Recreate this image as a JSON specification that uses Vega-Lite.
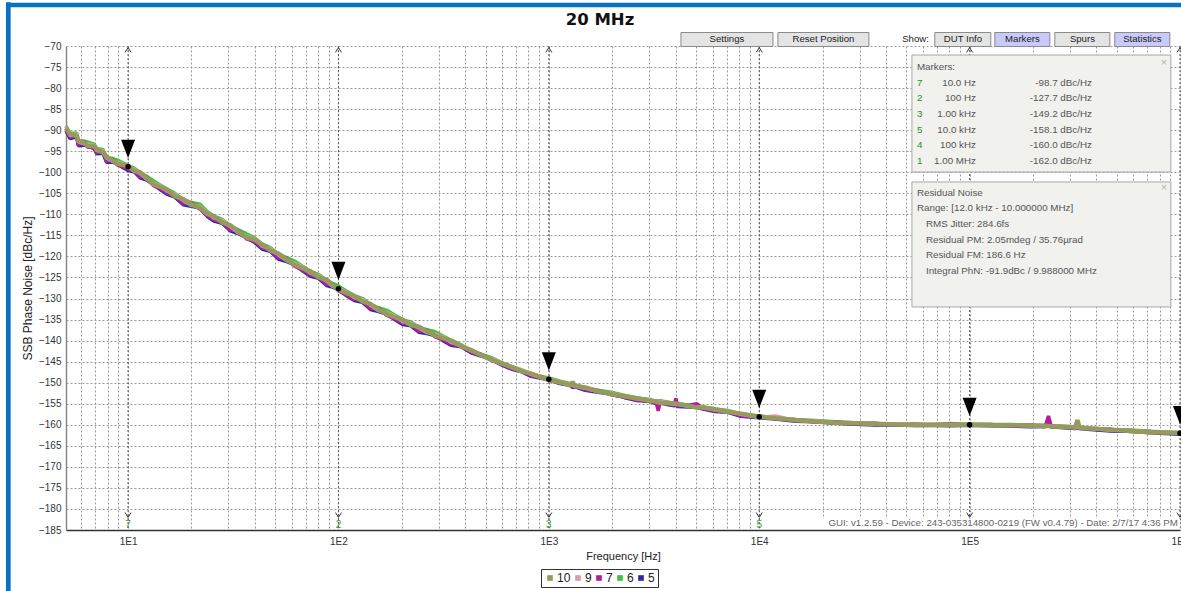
{
  "$schema": "https://vega.github.io/schema/vega-lite/v6.json",
  "autosize": {"type": "none"},
  "padding": {"left": 66, "top": 46, "right": 1, "bottom": 61},
  "width": 1114,
  "height": 484,
  "background": "white",
  "config": {
    "view": {"stroke": null},
    "font": "Liberation Sans",
    "axis": {"grid": true, "gridDash": [2, 2], "gridColor": "#9a9a9a", "gridWidth": 1, "ticks": false, "labelFont": "Liberation Sans", "labelFontSize": 10, "labelColor": "#333", "titleFont": "Liberation Sans", "titleFontSize": 11, "titleFontWeight": "normal", "titleColor": "#222", "labelOverlap": false},
    "axisY": {"labelOverlap": false, "labelFlush": false, "labelBound": false, "tickCount": 40},
    "axisX": {"labelOverlap": false, "labelFlush": false, "labelBound": false, "tickCount": 80}
  },
  "data": {"values": [
    {"f":5.07,"s10":-89.5,"s9":-89.2,"s7":-89.9,"s6":-89.0,"s5":-90.1},
    {"f":5.3,"s10":-90.9,"s9":-91.3,"s7":-91.7,"s6":-90.8,"s5":-92.0},
    {"f":5.7,"s10":-91.4,"s9":-90.9,"s7":-91.3,"s6":-90.7,"s5":-91.6},
    {"f":5.8,"s10":-92.4,"s9":-92.7,"s7":-93.5,"s6":-92.5,"s5":-93.7},
    {"f":6.2,"s10":-93.0,"s9":-93.3,"s7":-92.7,"s6":-92.6,"s5":-93.5},
    {"f":6.4,"s10":-93.7,"s9":-93.3,"s7":-94.0,"s6":-92.8,"s5":-93.7},
    {"f":6.9,"s10":-93.8,"s9":-93.5,"s7":-94.2,"s6":-93.3,"s5":-94.4},
    {"f":7.1,"s10":-94.5,"s9":-94.9,"s7":-95.3,"s6":-94.4,"s5":-95.6},
    {"f":7.6,"s10":-95.3,"s9":-94.8,"s7":-95.2,"s6":-94.6,"s5":-95.5},
    {"f":7.9,"s10":-96.3,"s9":-96.6,"s7":-97.4,"s6":-96.4,"s5":-97.6},
    {"f":8.4,"s10":-97.1,"s9":-97.4,"s7":-96.8,"s6":-96.7,"s5":-97.6},
    {"f":8.9,"s10":-98.0,"s9":-97.6,"s7":-98.3,"s6":-97.1,"s5":-98.0},
    {"f":9.4,"s10":-98.2,"s9":-97.9,"s7":-98.6,"s6":-97.7,"s5":-98.8},
    {"f":10,"s10":-98.5,"s9":-98.9,"s7":-99.3,"s6":-98.4,"s5":-99.6},
    {"f":10.7,"s10":-99.7,"s9":-99.2,"s7":-99.6,"s6":-99.0,"s5":-99.9},
    {"f":11.4,"s10":-100.0,"s9":-100.3,"s7":-101.1,"s6":-100.1,"s5":-101.3},
    {"f":12.2,"s10":-101.3,"s9":-101.6,"s7":-101.0,"s6":-100.9,"s5":-101.8},
    {"f":13.2,"s10":-102.9,"s9":-102.5,"s7":-103.2,"s6":-102.0,"s5":-102.9},
    {"f":14.2,"s10":-103.5,"s9":-103.2,"s7":-103.9,"s6":-103.0,"s5":-104.1},
    {"f":15.3,"s10":-104.1,"s9":-104.5,"s7":-104.9,"s6":-104.0,"s5":-105.2},
    {"f":16.7,"s10":-105.7,"s9":-105.2,"s7":-105.6,"s6":-105.0,"s5":-105.9},
    {"f":18.3,"s10":-106.4,"s9":-106.7,"s7":-107.5,"s6":-106.5,"s5":-107.7},
    {"f":20,"s10":-107.6,"s9":-107.9,"s7":-107.3,"s6":-107.2,"s5":-108.1},
    {"f":22,"s10":-108.5,"s9":-108.1,"s7":-108.8,"s6":-107.6,"s5":-108.5},
    {"f":23.8,"s10":-109.9,"s9":-109.6,"s7":-110.3,"s6":-109.4,"s5":-110.5},
    {"f":25.6,"s10":-110.5,"s9":-110.9,"s7":-111.3,"s6":-110.4,"s5":-111.6},
    {"f":28,"s10":-111.9,"s9":-111.4,"s7":-111.8,"s6":-111.2,"s5":-112.1},
    {"f":30.6,"s10":-112.6,"s9":-112.9,"s7":-113.7,"s6":-112.7,"s5":-113.9},
    {"f":33.4,"s10":-114.1,"s9":-114.4,"s7":-113.8,"s6":-113.7,"s5":-114.6},
    {"f":36.5,"s10":-115.5,"s9":-115.1,"s7":-115.8,"s6":-114.6,"s5":-115.5},
    {"f":39.8,"s10":-116.0,"s9":-115.7,"s7":-116.4,"s6":-115.5,"s5":-116.6},
    {"f":43.5,"s10":-117.2,"s9":-117.6,"s7":-118.0,"s6":-117.1,"s5":-118.3},
    {"f":47.5,"s10":-118.6,"s9":-118.1,"s7":-118.5,"s6":-117.9,"s5":-118.8},
    {"f":51.8,"s10":-119.3,"s9":-119.6,"s7":-120.4,"s6":-119.4,"s5":-120.6},
    {"f":56.6,"s10":-120.7,"s9":-121.0,"s7":-120.4,"s6":-120.3,"s5":-121.2},
    {"f":61.8,"s10":-122.0,"s9":-121.6,"s7":-122.3,"s6":-121.1,"s5":-122.0},
    {"f":67.5,"s10":-122.8,"s9":-122.5,"s7":-123.2,"s6":-122.3,"s5":-123.4},
    {"f":73.7,"s10":-123.6,"s9":-124.0,"s7":-124.4,"s6":-123.5,"s5":-124.7},
    {"f":80.5,"s10":-125.0,"s9":-124.5,"s7":-124.9,"s6":-124.3,"s5":-125.2},
    {"f":87.9,"s10":-125.6,"s9":-125.9,"s7":-126.7,"s6":-125.7,"s5":-126.9},
    {"f":93.8,"s10":-126.8,"s9":-127.1,"s7":-126.5,"s6":-126.4,"s5":-127.3},
    {"f":100,"s10":-127.9,"s9":-127.5,"s7":-128.2,"s6":-127.0,"s5":-127.9},
    {"f":109,"s10":-128.7,"s9":-128.4,"s7":-129.1,"s6":-128.2,"s5":-129.3},
    {"f":119,"s10":-129.4,"s9":-129.8,"s7":-130.2,"s6":-129.3,"s5":-130.5},
    {"f":130,"s10":-130.7,"s9":-130.2,"s7":-130.6,"s6":-130.0,"s5":-130.9},
    {"f":142,"s10":-131.3,"s9":-131.6,"s7":-132.4,"s6":-131.4,"s5":-132.6},
    {"f":155,"s10":-132.6,"s9":-132.9,"s7":-132.3,"s6":-132.2,"s5":-133.1},
    {"f":170,"s10":-133.7,"s9":-133.3,"s7":-134.0,"s6":-132.8,"s5":-133.7},
    {"f":185,"s10":-134.4,"s9":-134.1,"s7":-134.8,"s6":-133.9,"s5":-135.0},
    {"f":202,"s10":-135.1,"s9":-135.5,"s7":-135.9,"s6":-135.0,"s5":-136.2},
    {"f":221,"s10":-136.3,"s9":-135.8,"s7":-136.2,"s6":-135.6,"s5":-136.5},
    {"f":241,"s10":-136.7,"s9":-137.0,"s7":-137.8,"s6":-136.8,"s5":-138.0},
    {"f":263,"s10":-137.8,"s9":-138.1,"s7":-137.5,"s6":-137.4,"s5":-138.3},
    {"f":288,"s10":-138.8,"s9":-138.4,"s7":-139.1,"s6":-137.9,"s5":-138.8},
    {"f":314,"s10":-139.4,"s9":-139.1,"s7":-139.8,"s6":-138.9,"s5":-140.0},
    {"f":343,"s10":-140.0,"s9":-140.4,"s7":-140.8,"s6":-139.9,"s5":-141.1},
    {"f":383,"s10":-141.35,"s9":-141.1,"s7":-141.3,"s6":-141.0,"s5":-141.45},
    {"f":427,"s10":-142.25,"s9":-142.4,"s7":-142.8,"s6":-142.3,"s5":-142.9},
    {"f":476,"s10":-143.4,"s9":-143.55,"s7":-143.25,"s6":-143.2,"s5":-143.65},
    {"f":532,"s10":-144.5,"s9":-144.3,"s7":-144.65,"s6":-144.05,"s5":-144.5},
    {"f":593,"s10":-145.4,"s9":-145.25,"s7":-145.6,"s6":-145.15,"s5":-145.7},
    {"f":662,"s10":-146.2,"s9":-146.4,"s7":-146.6,"s6":-146.15,"s5":-146.75},
    {"f":738,"s10":-147.25,"s9":-147.0,"s7":-147.2,"s6":-146.9,"s5":-147.35},
    {"f":824,"s10":-147.85,"s9":-148.0,"s7":-148.4,"s6":-147.9,"s5":-148.5},
    {"f":919,"s10":-148.7,"s9":-148.85,"s7":-148.55,"s6":-148.5,"s5":-148.95},
    {"f":1000,"s10":-149.3,"s9":-149.1,"s7":-149.45,"s6":-148.85,"s5":-149.3},
    {"f":1131,"s10":-149.9,"s9":-149.75,"s7":-150.1,"s6":-149.65,"s5":-150.2},
    {"f":1270,"s10":-150.6,"s9":-150.35,"s7":-150.55,"s6":-150.25,"s5":-150.7},
    {"f":1297,"s10":-149.8,"s9":-150.65,"s7":-151.05,"s6":-150.55,"s5":-151.15},
    {"f":1325,"s10":-150.7,"s9":-150.85,"s7":-150.55,"s6":-150.5,"s5":-150.95},
    {"f":1487,"s10":-151.15,"s9":-151.3,"s7":-151.7,"s6":-151.2,"s5":-151.8},
    {"f":1713,"s10":-152.0,"s9":-152.15,"s7":-151.85,"s6":-151.8,"s5":-152.25},
    {"f":1975,"s10":-152.7,"s9":-152.5,"s7":-152.85,"s6":-152.25,"s5":-152.7},
    {"f":2277,"s10":-153.2,"s9":-153.05,"s7":-153.4,"s6":-152.95,"s5":-153.5},
    {"f":2624,"s10":-153.7,"s9":-153.9,"s7":-154.1,"s6":-153.65,"s5":-154.25},
    {"f":3025,"s10":-154.35,"s9":-154.1,"s7":-154.3,"s6":-154.0,"s5":-154.45},
    {"f":3250,"s10":-154.4,"s9":-154.55,"s7":-154.95,"s6":-154.45,"s5":-155.05},
    {"f":3310,"s10":-154.6,"s9":-154.75,"s7":-156.7,"s6":-154.4,"s5":-154.85},
    {"f":3370,"s10":-154.75,"s9":-154.55,"s7":-154.9,"s6":-154.3,"s5":-154.75},
    {"f":3600,"s10":-154.8,"s9":-154.65,"s7":-155.0,"s6":-154.55,"s5":-155.1},
    {"f":3950,"s10":-154.95,"s9":-155.15,"s7":-155.35,"s6":-154.9,"s5":-155.5},
    {"f":4018,"s10":-155.15,"s9":-154.9,"s7":-153.7,"s6":-154.8,"s5":-155.25},
    {"f":4090,"s10":-155.0,"s9":-155.15,"s7":-155.55,"s6":-155.05,"s5":-155.65},
    {"f":4632,"s10":-155.5,"s9":-155.65,"s7":-155.35,"s6":-155.3,"s5":-155.75},
    {"f":5067,"s10":-155.9,"s9":-155.7,"s7":-155.0,"s6":-155.45,"s5":-155.9},
    {"f":5339,"s10":-155.9,"s9":-155.75,"s7":-156.1,"s6":-155.65,"s5":-156.2},
    {"f":6154,"s10":-156.3,"s9":-156.5,"s7":-156.7,"s6":-156.25,"s5":-156.85},
    {"f":7093,"s10":-156.95,"s9":-156.7,"s7":-156.9,"s6":-156.6,"s5":-157.05},
    {"f":8176,"s10":-157.35,"s9":-157.5,"s7":-157.9,"s6":-157.4,"s5":-158.0},
    {"f":10000,"s10":-158.1,"s9":-158.25,"s7":-157.95,"s6":-157.9,"s5":-158.35},
    {"f":11930,"s10":-158.45,"s9":-157.9,"s7":-158.55,"s6":-158.3,"s5":-158.65},
    {"f":14850,"s10":-158.85,"s9":-159.0,"s7":-158.75,"s6":-158.8,"s5":-159.15},
    {"f":18480,"s10":-159.2,"s9":-159.05,"s7":-159.35,"s6":-159.0,"s5":-159.3},
    {"f":23010,"s10":-159.5,"s9":-159.45,"s7":-159.35,"s6":-159.3,"s5":-159.65},
    {"f":28640,"s10":-159.65,"s9":-159.55,"s7":-159.75,"s6":-159.5,"s5":-159.85},
    {"f":35650,"s10":-159.75,"s9":-159.9,"s7":-159.65,"s6":-159.7,"s5":-160.05},
    {"f":44380,"s10":-159.95,"s9":-159.8,"s7":-160.1,"s6":-159.75,"s5":-160.05},
    {"f":55250,"s10":-160.05,"s9":-160.0,"s7":-159.9,"s6":-159.85,"s5":-160.2},
    {"f":68780,"s10":-160.0,"s9":-159.9,"s7":-160.1,"s6":-159.85,"s5":-160.2},
    {"f":81050,"s10":-159.95,"s9":-160.1,"s7":-159.7,"s6":-159.9,"s5":-160.25},
    {"f":100000,"s10":-160.0,"s9":-159.85,"s7":-160.15,"s6":-159.8,"s5":-160.1},
    {"f":125600,"s10":-160.1,"s9":-160.05,"s7":-159.95,"s6":-159.9,"s5":-160.25},
    {"f":156300,"s10":-160.1,"s9":-160.0,"s7":-160.2,"s6":-159.95,"s5":-160.3},
    {"f":194600,"s10":-160.15,"s9":-160.3,"s7":-160.05,"s6":-160.1,"s5":-160.45},
    {"f":229000,"s10":-160.3,"s9":-160.15,"s7":-160.45,"s6":-160.1,"s5":-160.4},
    {"f":236900,"s10":-160.3,"s9":-160.2,"s7":-157.9,"s6":-160.15,"s5":-158.6},
    {"f":244000,"s10":-160.4,"s9":-160.35,"s7":-160.25,"s6":-160.2,"s5":-160.55},
    {"f":270300,"s10":-160.45,"s9":-160.35,"s7":-160.55,"s6":-160.3,"s5":-160.65},
    {"f":318000,"s10":-160.6,"s9":-160.75,"s7":-160.5,"s6":-160.55,"s5":-160.9},
    {"f":325500,"s10":-158.9,"s9":-160.55,"s7":-160.85,"s6":-160.5,"s5":-160.8},
    {"f":333000,"s10":-160.75,"s9":-160.7,"s7":-160.6,"s6":-160.55,"s5":-160.9},
    {"f":375300,"s10":-160.9,"s9":-160.8,"s7":-161.0,"s6":-160.75,"s5":-161.1},
    {"f":467100,"s10":-161.15,"s9":-161.3,"s7":-161.05,"s6":-161.1,"s5":-161.45},
    {"f":581500,"s10":-161.45,"s9":-161.3,"s7":-161.6,"s6":-161.25,"s5":-161.55},
    {"f":723800,"s10":-161.75,"s9":-161.7,"s7":-161.6,"s6":-161.55,"s5":-161.9},
    {"f":853100,"s10":-161.85,"s9":-161.75,"s7":-161.95,"s6":-161.7,"s5":-162.05},
    {"f":1000000,"s10":-161.95,"s9":-162.1,"s7":-161.85,"s6":-161.9,"s5":-162.25}
  ]},
  "datasets": {
    "markers": [
      {"f": 10, "v": -98.7, "n": "7"},
      {"f": 100, "v": -127.7, "n": "2"},
      {"f": 1000, "v": -149.2, "n": "3"},
      {"f": 10000, "v": -158.1, "n": "5"},
      {"f": 100000, "v": -160.0, "n": "4"},
      {"f": 1000000, "v": -162.0, "n": "1"}
    ],
    "one": [{}]
  },
  "layer": [
    {
      "data": {"name": "markers"},
      "mark": {"type": "rule", "color": "#555", "strokeDash": [2, 2], "strokeWidth": 1},
      "encoding": {
        "x": {"field": "f", "type": "quantitative"},
        "y": {"datum": -70, "type": "quantitative"},
        "y2": {"datum": -185}
      }
    },
    {
      "mark": {"type": "line", "strokeWidth": 3.5, "strokeJoin": "bevel"},
      "encoding": {
        "x": {"field": "f", "type": "quantitative", "scale": {"type": "log", "domain": [5.07, 1000000], "nice": false},
          "axis": {"title": "Frequency [Hz]", "tickCount": 80, "values": [6,7,8,9,10,20,30,40,50,60,70,80,90,100,200,300,400,500,600,700,800,900,1000,2000,3000,4000,5000,6000,7000,8000,9000,10000,20000,30000,40000,50000,60000,70000,80000,90000,100000,200000,300000,400000,500000,600000,700000,800000,900000,1000000],
            "labelExpr": "datum.value == 10 ? '1E1' : datum.value == 100 ? '1E2' : datum.value == 1000 ? '1E3' : datum.value == 10000 ? '1E4' : datum.value == 100000 ? '1E5' : datum.value == 1000000 ? '1E6' : ''",
            "labelOverlap": false, "labelFlush": false, "labelBound": false, "labelPadding": 6, "titlePadding": 4, "domainColor": "#333", "domainWidth": 1.5}},
        "y": {"field": "s5", "type": "quantitative", "scale": {"domain": [-185, -70], "nice": false, "zero": false},
          "axis": {"title": "SSB Phase Noise [dBc/Hz]", "titleFontSize": 12, "tickCount": 40, "values": [-70,-75,-80,-85,-90,-95,-100,-105,-110,-115,-120,-125,-130,-135,-140,-145,-150,-155,-160,-165,-170,-175,-180,-185], "labelOverlap": false, "labelFlush": false, "labelBound": false, "labelPadding": 5, "titlePadding": 4, "domainColor": "#8a8a8a", "domainWidth": 1.5}},
        "color": {"datum": "5", "type": "nominal",
          "scale": {"domain": ["10", "9", "7", "6", "5"], "range": ["#979a5c", "#d4a0a6", "#b41ca2", "#3cc43c", "#2a2aa4"]},
          "legend": {"orient": "none", "legendX": 475, "legendY": 523, "direction": "horizontal", "title": null, "symbolType": "square", "symbolSize": 32, "symbolStrokeWidth": 0, "labelFontSize": 12, "labelColor": "#222", "labelOffset": 1, "columnPadding": 1, "padding": 3, "strokeColor": "#333",
            "encode": {"symbols": {"update": {"fill": {"scale": "color", "field": "value"}, "shape": {"value": "square"}, "strokeWidth": {"value": 0}}}}}}
      }
    },
    {
      "mark": {"type": "line", "strokeWidth": 3.5, "strokeJoin": "bevel"},
      "encoding": {
        "x": {"field": "f", "type": "quantitative"},
        "y": {"field": "s6", "type": "quantitative"},
        "color": {"datum": "6", "type": "nominal"}
      }
    },
    {
      "mark": {"type": "line", "strokeWidth": 3.5, "strokeJoin": "bevel"},
      "encoding": {
        "x": {"field": "f", "type": "quantitative"},
        "y": {"field": "s7", "type": "quantitative"},
        "color": {"datum": "7", "type": "nominal"}
      }
    },
    {
      "mark": {"type": "line", "strokeWidth": 3.5, "strokeJoin": "bevel"},
      "encoding": {
        "x": {"field": "f", "type": "quantitative"},
        "y": {"field": "s9", "type": "quantitative"},
        "color": {"datum": "9", "type": "nominal"}
      }
    },
    {
      "mark": {"type": "line", "strokeWidth": 4.5, "strokeJoin": "bevel"},
      "encoding": {
        "x": {"field": "f", "type": "quantitative"},
        "y": {"field": "s10", "type": "quantitative"},
        "color": {"datum": "10", "type": "nominal"}
      }
    },
    {
      "data": {"name": "markers"},
      "mark": {"type": "point", "shape": "M-1,-1.3L1,-1.3L0,1.3Z", "filled": true, "color": "#000", "opacity": 1, "size": 196, "yOffset": -18},
      "encoding": {
        "x": {"field": "f", "type": "quantitative"},
        "y": {"field": "v", "type": "quantitative"}
      }
    },
    {
      "data": {"name": "markers"},
      "mark": {"type": "point", "shape": "circle", "filled": true, "color": "#000", "opacity": 1, "size": 30},
      "encoding": {
        "x": {"field": "f", "type": "quantitative"},
        "y": {"field": "v", "type": "quantitative"}
      }
    },
    {
      "data": {"name": "markers"},
      "mark": {"type": "point", "shape": "M-1,0.8L0,-0.8L1,0.8", "filled": false, "color": "#333", "opacity": 1, "strokeWidth": 1, "size": 36},
      "encoding": {
        "x": {"field": "f", "type": "quantitative"},
        "y": {"datum": -70.95, "type": "quantitative"}
      }
    },
    {
      "data": {"name": "markers"},
      "mark": {"type": "point", "shape": "M-1,-0.8L0,0.8L1,-0.8", "filled": false, "color": "#333", "opacity": 1, "strokeWidth": 1, "size": 36},
      "encoding": {
        "x": {"field": "f", "type": "quantitative"},
        "y": {"datum": -181.43, "type": "quantitative"}
      }
    },
    {
      "data": {"name": "markers"},
      "transform": [{"filter": "datum.f <= 10000"}],
      "mark": {"type": "text", "color": "#3a9a3a", "fontSize": 10, "baseline": "middle", "align": "center"},
      "encoding": {
        "x": {"field": "f", "type": "quantitative"},
        "y": {"datum": -183.8, "type": "quantitative"},
        "text": {"field": "n"}
      }
    },
    {
      "data": {"name": "one"},
      "mark": {"type": "rect", "color": "#ffffff", "opacity": 1},
      "encoding": {
        "x": {"datum": 19500, "type": "quantitative"}, "x2": {"datum": 1000000},
        "y": {"datum": -182.26, "type": "quantitative"}, "y2": {"datum": -184.76}
      }
    },
    {
      "data": {"name": "one"},
      "mark": {"type": "text", "text": "GUI: v1.2.59 - Device: 243-035314800-0219 (FW v0.4.79) - Date: 2/7/17 4:36 PM", "color": "#666", "fontSize": 9.7, "align": "right", "baseline": "middle"},
      "encoding": {
        "x": {"datum": 977000, "type": "quantitative"},
        "y": {"datum": -183.4, "type": "quantitative"}
      }
    },
    {
      "data": {"name": "one"},
      "mark": {"type": "rect", "color": "#f1f1ed", "stroke": "#a8a8a8", "strokeWidth": 1, "opacity": 1},
      "encoding": {
        "x": {"datum": 53190, "type": "quantitative"}, "x2": {"datum": 905000},
        "y": {"datum": -72.14, "type": "quantitative"}, "y2": {"datum": -99.94}
      }
    },
    {
      "data": {"name": "one"},
      "mark": {"type": "rect", "color": "#f1f1ed", "stroke": "#a8a8a8", "strokeWidth": 1, "opacity": 1},
      "encoding": {
        "x": {"datum": 53190, "type": "quantitative"}, "x2": {"datum": 905000},
        "y": {"datum": -102.31, "type": "quantitative"}, "y2": {"datum": -132.01}
      }
    },
    {
      "data": {"name": "one"},
      "mark": {"type": "text", "text": "Markers:", "color": "#555", "fontSize": 9.8, "align": "left", "baseline": "top"},
      "encoding": {"x": {"datum": 56170, "type": "quantitative"}, "y": {"datum": -73.75, "type": "quantitative"}}
    },
    {
      "data": {"name": "one"},
      "mark": {"type": "text", "text": ["7", "2", "3", "5", "4", "1"], "lineHeight": 15.66, "color": "#2e8b2e", "fontSize": 9.8, "align": "left", "baseline": "top"},
      "encoding": {"x": {"datum": 56170, "type": "quantitative"}, "y": {"datum": -77.55, "type": "quantitative"}}
    },
    {
      "data": {"name": "one"},
      "mark": {"type": "text", "text": ["10.0 Hz", "100 Hz", "1.00 kHz", "10.0 kHz", "100 kHz", "1.00 MHz"], "lineHeight": 15.66, "color": "#555", "fontSize": 9.8, "align": "right", "baseline": "top"},
      "encoding": {"x": {"datum": 107200, "type": "quantitative"}, "y": {"datum": -77.55, "type": "quantitative"}}
    },
    {
      "data": {"name": "one"},
      "mark": {"type": "text", "text": ["-98.7 dBc/Hz", "-127.7 dBc/Hz", "-149.2 dBc/Hz", "-158.1 dBc/Hz", "-160.0 dBc/Hz", "-162.0 dBc/Hz"], "lineHeight": 15.66, "color": "#555", "fontSize": 9.8, "align": "right", "baseline": "top"},
      "encoding": {"x": {"datum": 381400, "type": "quantitative"}, "y": {"datum": -77.55, "type": "quantitative"}}
    },
    {
      "data": {"name": "one"},
      "mark": {"type": "text", "text": ["Residual Noise", "Range: [12.0 kHz - 10.000000 MHz]"], "lineHeight": 15.66, "color": "#555", "fontSize": 9.8, "align": "left", "baseline": "top"},
      "encoding": {"x": {"datum": 56170, "type": "quantitative"}, "y": {"datum": -103.68, "type": "quantitative"}}
    },
    {
      "data": {"name": "one"},
      "mark": {"type": "text", "text": ["RMS Jitter: 284.6fs", "Residual PM: 2.05mdeg / 35.76µrad", "Residual FM: 186.6 Hz", "Integral PhN: -91.9dBc / 9.988000 MHz"], "lineHeight": 15.66, "color": "#555", "fontSize": 9.8, "align": "left", "baseline": "top"},
      "encoding": {"x": {"datum": 61980, "type": "quantitative"}, "y": {"datum": -111.12, "type": "quantitative"}}
    },
    {
      "data": {"name": "one"},
      "mark": {"type": "text", "text": "×", "color": "#b5b5b5", "fontSize": 11, "align": "center", "baseline": "middle"},
      "encoding": {"x": {"datum": 838500, "type": "quantitative"}, "y": {"datum": -73.97, "type": "quantitative"}}
    },
    {
      "data": {"name": "one"},
      "mark": {"type": "text", "text": "×", "color": "#b5b5b5", "fontSize": 11, "align": "center", "baseline": "middle"},
      "encoding": {"x": {"datum": 838500, "type": "quantitative"}, "y": {"datum": -103.81, "type": "quantitative"}}
    },
    {
      "data": {"name": "one"},
      "mark": {"type": "rect", "color": "#e4e4e4", "stroke": "#8a8a8a", "strokeWidth": 1, "opacity": 1},
      "encoding": {"x": {"datum": 4245, "type": "quantitative"}, "x2": {"datum": 11620}, "y": {"datum": -66.79, "type": "quantitative"}, "y2": {"datum": -70.12}}
    },
    {
      "data": {"name": "one"},
      "mark": {"type": "text", "text": "Settings", "color": "#222", "fontSize": 9.6, "align": "center", "baseline": "middle"},
      "encoding": {"x": {"datum": 7022, "type": "quantitative"}, "y": {"datum": -68.4, "type": "quantitative"}}
    },
    {
      "data": {"name": "one"},
      "mark": {"type": "rect", "color": "#e4e4e4", "stroke": "#8a8a8a", "strokeWidth": 1, "opacity": 1},
      "encoding": {"x": {"datum": 12270, "type": "quantitative"}, "x2": {"datum": 33220}, "y": {"datum": -66.79, "type": "quantitative"}, "y2": {"datum": -70.12}}
    },
    {
      "data": {"name": "one"},
      "mark": {"type": "text", "text": "Reset Position", "color": "#222", "fontSize": 9.6, "align": "center", "baseline": "middle"},
      "encoding": {"x": {"datum": 20190, "type": "quantitative"}, "y": {"datum": -68.4, "type": "quantitative"}}
    },
    {
      "data": {"name": "one"},
      "mark": {"type": "text", "text": "Show:", "color": "#222", "fontSize": 9.6, "align": "right", "baseline": "middle"},
      "encoding": {"x": {"datum": 64000, "type": "quantitative"}, "y": {"datum": -68.4, "type": "quantitative"}}
    },
    {
      "data": {"name": "one"},
      "mark": {"type": "rect", "color": "#e4e4e4", "stroke": "#8a8a8a", "strokeWidth": 1, "opacity": 1},
      "encoding": {"x": {"datum": 68330, "type": "quantitative"}, "x2": {"datum": 126100}, "y": {"datum": -66.79, "type": "quantitative"}, "y2": {"datum": -70.12}}
    },
    {
      "data": {"name": "one"},
      "mark": {"type": "text", "text": "DUT Info", "color": "#222", "fontSize": 9.6, "align": "center", "baseline": "middle"},
      "encoding": {"x": {"datum": 92900, "type": "quantitative"}, "y": {"datum": -68.4, "type": "quantitative"}}
    },
    {
      "data": {"name": "one"},
      "mark": {"type": "rect", "color": "#c9c9fb", "stroke": "#8a8a8a", "strokeWidth": 1, "opacity": 1},
      "encoding": {"x": {"datum": 131800, "type": "quantitative"}, "x2": {"datum": 240600}, "y": {"datum": -66.79, "type": "quantitative"}, "y2": {"datum": -70.12}}
    },
    {
      "data": {"name": "one"},
      "mark": {"type": "text", "text": "Markers", "color": "#222", "fontSize": 9.6, "align": "center", "baseline": "middle"},
      "encoding": {"x": {"datum": 178200, "type": "quantitative"}, "y": {"datum": -68.4, "type": "quantitative"}}
    },
    {
      "data": {"name": "one"},
      "mark": {"type": "rect", "color": "#e4e4e4", "stroke": "#8a8a8a", "strokeWidth": 1, "opacity": 1},
      "encoding": {"x": {"datum": 254100, "type": "quantitative"}, "x2": {"datum": 463800}, "y": {"datum": -66.79, "type": "quantitative"}, "y2": {"datum": -70.12}}
    },
    {
      "data": {"name": "one"},
      "mark": {"type": "text", "text": "Spurs", "color": "#222", "fontSize": 9.6, "align": "center", "baseline": "middle"},
      "encoding": {"x": {"datum": 343700, "type": "quantitative"}, "y": {"datum": -68.4, "type": "quantitative"}}
    },
    {
      "data": {"name": "one"},
      "mark": {"type": "rect", "color": "#c9c9fb", "stroke": "#8a8a8a", "strokeWidth": 1, "opacity": 1},
      "encoding": {"x": {"datum": 489800, "type": "quantitative"}, "x2": {"datum": 894500}, "y": {"datum": -66.79, "type": "quantitative"}, "y2": {"datum": -70.12}}
    },
    {
      "data": {"name": "one"},
      "mark": {"type": "text", "text": "Statistics", "color": "#222", "fontSize": 9.6, "align": "center", "baseline": "middle"},
      "encoding": {"x": {"datum": 662500, "type": "quantitative"}, "y": {"datum": -68.4, "type": "quantitative"}}
    },
    {
      "data": {"name": "one"},
      "mark": {"type": "text", "text": "20 MHz", "font": "DejaVu Sans", "fontSize": 16.5, "fontWeight": "bold", "color": "#111", "align": "center", "baseline": "middle"},
      "encoding": {"x": {"datum": 1750, "type": "quantitative"}, "y": {"datum": -63.82, "type": "quantitative"}}
    },
    {
      "data": {"name": "one"},
      "mark": {"type": "rule", "color": "#0a70c2", "strokeWidth": 4.7},
      "encoding": {"x": {"datum": 2.696, "type": "quantitative"}, "y": {"datum": -59.6, "type": "quantitative"}, "y2": {"datum": -205}}
    },
    {
      "data": {"name": "one"},
      "mark": {"type": "rule", "color": "#0a70c2", "strokeWidth": 4.7},
      "encoding": {"x": {"datum": 2.629, "type": "quantitative"}, "x2": {"datum": 1100000}, "y": {"datum": -60.26, "type": "quantitative"}}
    }
  ]
}
